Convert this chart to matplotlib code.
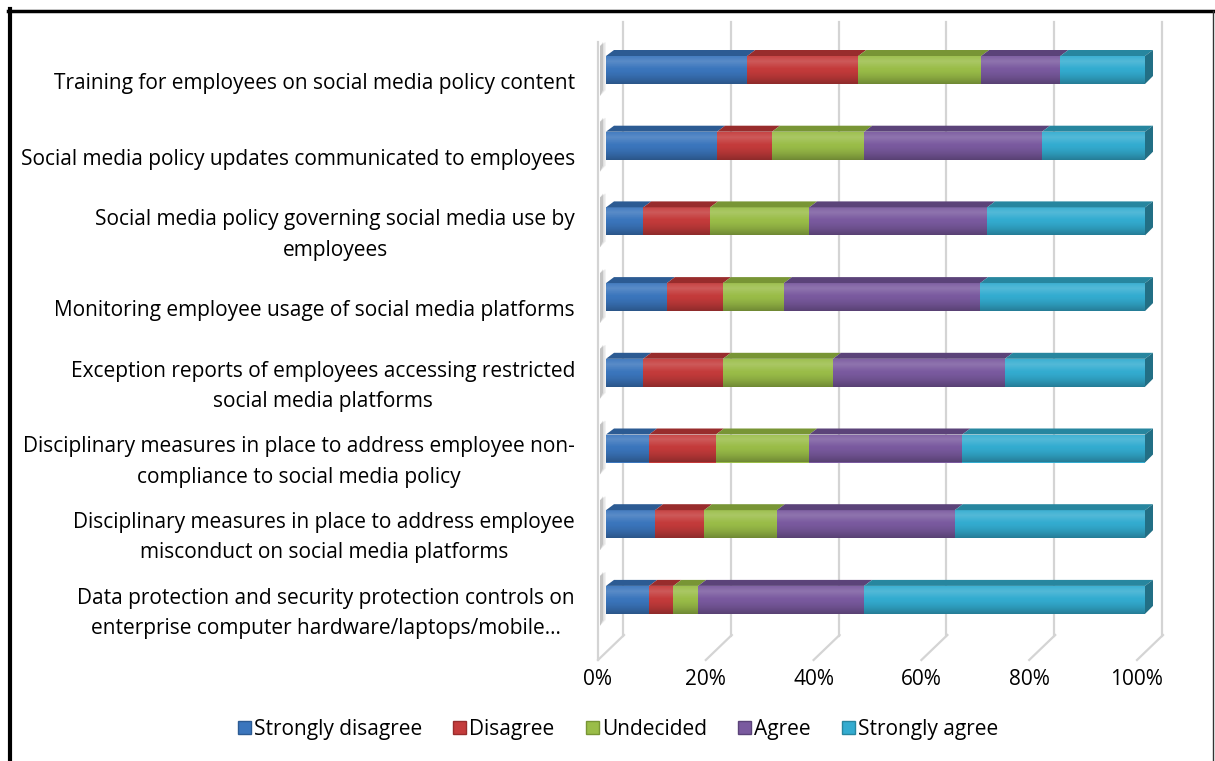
import numpy as np
import matplotlib
matplotlib.use("Agg")
import matplotlib.pyplot as plt
from matplotlib.patches import Polygon, Patch
from matplotlib.lines import Line2D

# ---- data -------------------------------------------------------------
categories = [
    "Training for employees on social media policy content",
    "Social media policy updates communicated to employees",
    "Social media policy governing social media use by\nemployees",
    "Monitoring employee usage of social media platforms",
    "Exception reports of employees accessing restricted\nsocial media platforms",
    "Disciplinary measures in place to address employee non-\ncompliance to social media policy",
    "Disciplinary measures in place to address employee\nmisconduct on social media platforms",
    "Data protection and security protection controls on\nenterprise computer hardware/laptops/mobile\u2026",
]
series_names = ["Strongly disagree", "Disagree", "Undecided", "Agree", "Strongly agree"]
strongly_disagree = [26.2, 20.6, 6.9, 11.3, 6.9, 8.0, 9.1, 8.0]
disagree = [20.6, 10.2, 12.4, 10.4, 14.8, 12.4, 9.1, 4.5]
undecided = [22.8, 17.1, 18.4, 11.3, 20.4, 17.3, 13.5, 4.6]
agree = [14.7, 33.0, 33.0, 36.4, 31.9, 28.4, 33.0, 30.8]
strongly_agree = [15.7, 19.1, 29.3, 30.6, 26.0, 33.9, 35.3, 52.1]
x_ticks = [0, 20, 40, 60, 80, 100]
x_tick_labels = ["0%", "20%", "40%", "60%", "80%", "100%"]

series_values = [strongly_disagree, disagree, undecided, agree, strongly_agree]

# ---- style ------------------------------------------------------------
front_colors = ["#3b76bd", "#c43b3b", "#9abd48", "#7a5a9f", "#33acd0"]
top_colors = ["#2c5b93", "#982c2c", "#789535", "#5b4379", "#27869f"]
side_color = "#226f85"
FONT = "Open Sans"
FS = 15.0

W, H, DPI = 1215, 761, 100
AX_L, AX_R, AX_T, AX_B = 606, 1145, 30, 640
ROW0, PITCH = 70, 75.7
KX = 100.0 / (AX_R - AX_L)      # data units per pixel along x
KY = 1.0 / PITCH                # data units per pixel along y (downwards)
BAR_H = 28 * KY
DX, DY = 8 * KX, 6 * KY         # depth offset of the top / side faces

plt.rcParams["font.family"] = [FONT, "DejaVu Sans"]

fig = plt.figure(figsize=(W / DPI, H / DPI), dpi=DPI)
ax = fig.add_axes([AX_L / W, 1 - AX_B / H, (AX_R - AX_L) / W, (AX_B - AX_T) / H])
y_top = (AX_T - ROW0) * KY
y_bot = (AX_B - ROW0) * KY
ax.axis("off")

def py(p):
    return (p - ROW0) * KY

# back wall gridlines and floor lines
grid_c = "#d4d4d4"
for v in x_ticks:
    ax.plot([v + 17 * KX] * 2, [py(22), py(636)], color=grid_c, lw=1.6,
            clip_on=False, zorder=1)
    ax.plot([v - 8 * KX, v + 18 * KX], [py(660), py(635)], color=grid_c,
            lw=1.6, clip_on=False, zorder=1)
# left wall edge
ax.plot([-8 * KX] * 2, [py(42), py(660)], color=grid_c, lw=1.6,
        clip_on=False, zorder=1)

# soft shadows cast on the left wall
for i in range(len(categories)):
    for k, a in enumerate([0.05, 0.08, 0.12]):
        w = 6 - 1.5 * k
        ax.add_patch(Polygon(
            [(-6 * KX, i - BAR_H / 2 - 10 * KY), (-6 * KX + w * KX, i - BAR_H / 2 - 14 * KY),
             (-6 * KX + w * KX, i + BAR_H / 2 + 6 * KY), (-6 * KX, i + BAR_H / 2 + 12 * KY)],
            closed=True, facecolor="black", alpha=a, edgecolor="none",
            zorder=2, clip_on=False))

# stacked bars
y_pos = np.arange(len(categories))
left = np.zeros(len(categories))
for j, vals in enumerate(series_values):
    vals = np.asarray(vals, dtype=float)
    bars = ax.barh(y_pos, vals, left=left, height=BAR_H, color=front_colors[j],
                   edgecolor="none", zorder=3)
    for rect in bars:
        x0 = rect.get_x()
        x1 = x0 + rect.get_width()
        yt = rect.get_y()
        ax.add_patch(Polygon([(x0, yt), (x1, yt), (x1 + DX, yt - DY), (x0 + DX, yt - DY)],
                             closed=True, facecolor=top_colors[j], edgecolor="none",
                             zorder=3, clip_on=False))
    left += vals

# right end faces and front shading
grad_n = 64
t = np.linspace(0, 1, grad_n)
overlay = np.zeros((grad_n, 1, 4))
light = t < 0.45
overlay[light, 0, :3] = 1.0
overlay[light, 0, 3] = 0.16 * np.clip(1 - np.abs(t[light] - 0.18) / 0.27, 0, 1)
overlay[~light, 0, :3] = 0.0
overlay[~light, 0, 3] = 0.28 * ((t[~light] - 0.45) / 0.55) ** 1.5
for i, total in zip(y_pos, left):
    yt, yb = i - BAR_H / 2, i + BAR_H / 2
    ax.add_patch(Polygon([(total, yt), (total + DX, yt - DY), (total + DX, yb - DY - 2 * KY),
                          (total, yb)], closed=True, facecolor=side_color,
                         edgecolor="none", zorder=3, clip_on=False))
    ax.imshow(overlay, extent=(0, total, yb, yt), origin="upper", aspect="auto",
              zorder=4, interpolation="bilinear")

ax.set_xlim(0, 100)
ax.set_ylim(y_bot, y_top)

# category labels
for i, name in enumerate(categories):
    ax.text((575 - AX_L) * KX, i + 13.5 * KY, name, ha="right", va="center",
            multialignment="center", fontsize=FS, color="black",
            linespacing=1.58, clip_on=False)

# value axis labels
for v, lab in zip(x_ticks, x_tick_labels):
    ax.text(v - 8 * KX, py(679.5), lab, ha="center", va="center", fontsize=FS,
            color="black", clip_on=False)

# legend
handles = [Patch(facecolor=c, edgecolor=tc, linewidth=1.0)
           for c, tc in zip(front_colors, top_colors)]
fig.legend(handles, series_names, loc="center", ncol=5,
           bbox_to_anchor=(618 / W, 1 - 729.5 / H), frameon=False,
           fontsize=FS, handlelength=0.62, handleheight=0.62,
           handletextpad=0.15, columnspacing=1.5, borderaxespad=0)

# outer frame
fig.add_artist(Line2D([9.5 / W, 9.5 / W], [0, 1 - 9 / H], color="black", lw=3.0))
fig.add_artist(Line2D([8 / W, 1214 / W], [1 - 10.5 / H, 1 - 10.5 / H], color="black", lw=2.5))
fig.add_artist(Line2D([1213 / W, 1213 / W], [0, 1 - 10.5 / H], color="#333333", lw=1.0))

fig.savefig("out.png", dpi=DPI, facecolor="white")
